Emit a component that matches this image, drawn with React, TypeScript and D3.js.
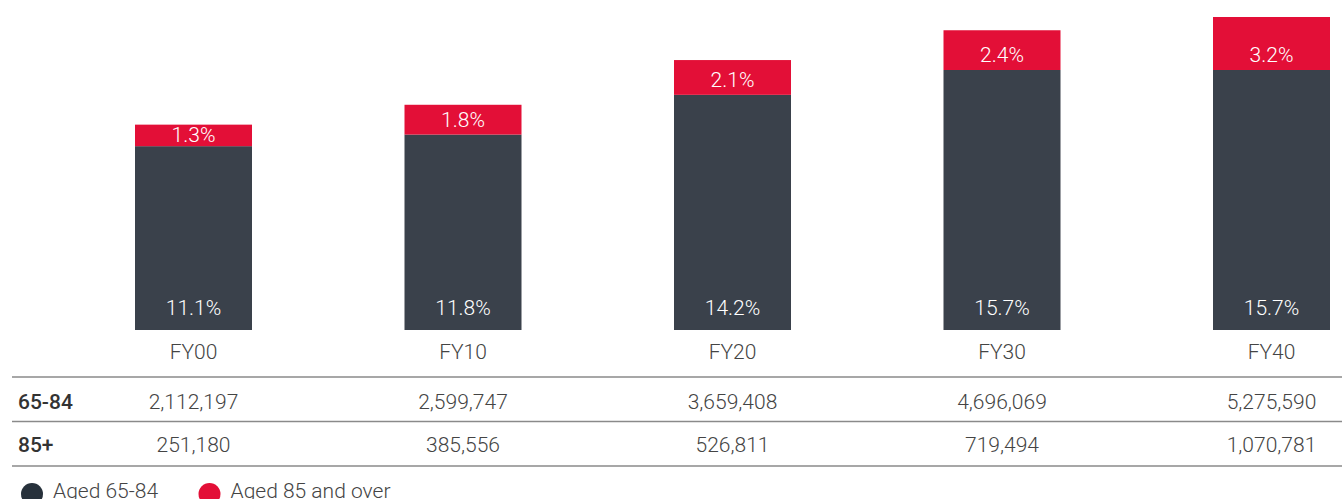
import React from 'react';
import * as d3 from 'd3';

const categories = ['FY00', 'FY10', 'FY20', 'FY30', 'FY40'];
const aged6584Pct = [11.1, 11.8, 14.2, 15.7, 15.7];
const aged85Pct = [1.3, 1.8, 2.1, 2.4, 3.2];
const aged6584Count = [2112197, 2599747, 3659408, 4696069, 5275590];
const aged85Count = [251180, 385556, 526811, 719494, 1070781];
const rowLabels = ['65-84', '85+'];
const legendLabels = ['Aged 65-84', 'Aged 85 and over'];

const DARK = '#3a414b';
const RED = '#e30f37';
const FONT = "Roboto, 'Helvetica Neue', Arial, sans-serif";

export default function App() {
  const width = 1342;
  const height = 499;
  const barWidth = 117;
  const baseY = 330;
  const fs = 21;

  const x = d3.scalePoint<string>()
    .domain(categories)
    .range([193.5, 1271.5]);

  const totals = categories.map((_, i) => aged6584Pct[i] + aged85Pct[i]);
  const y = d3.scaleLinear()
    .domain([0, d3.max(totals) as number])
    .range([baseY, 17]);

  const fmt = d3.format(',');
  const rows = [aged6584Count, aged85Count];
  const rowY = [409, 452];
  const lineY = [377, 421.5, 466];

  return (
    <svg
      width={width}
      height={height}
      style={{ position: 'absolute', left: 0, top: 0, fontFamily: FONT }}
    >
      {categories.map((c, i) => {
        const cx = x(c) as number;
        const darkTop = y(aged6584Pct[i]);
        const redTop = y(aged6584Pct[i] + aged85Pct[i]);
        // label sits near the bottom of the red segment
        const redLabelY = Math.max((redTop + darkTop) / 2 + 7, darkTop - 8);
        return (
          <g key={c}>
            <rect x={cx - barWidth / 2} y={darkTop} width={barWidth} height={baseY - darkTop} fill={DARK} />
            <rect x={cx - barWidth / 2} y={redTop} width={barWidth} height={darkTop - redTop} fill={RED} />
            <text x={cx} y={baseY - 15} textAnchor="middle" fill="#fff" fontSize={fs} fontWeight={300}>
              {`${aged6584Pct[i].toFixed(1)}%`}
            </text>
            <text x={cx} y={redLabelY} textAnchor="middle" fill="#fff" fontSize={fs} fontWeight={300}>
              {`${aged85Pct[i].toFixed(1)}%`}
            </text>
            <text x={cx} y={359} textAnchor="middle" fill="#444" fontSize={fs} fontWeight={300}>
              {c}
            </text>
          </g>
        );
      })}

      {lineY.map((ly) => (
        <line key={ly} x1={12} x2={width} y1={ly} y2={ly} stroke="#8a8a8a" strokeWidth={1.5} />
      ))}

      {rows.map((vals, r) => (
        <g key={rowLabels[r]}>
          <text x={18} y={rowY[r]} fill="#333" fontSize={fs} fontWeight={500}>{rowLabels[r]}</text>
          {vals.map((v, i) => (
            <text key={categories[i]} x={x(categories[i]) as number} y={rowY[r]} textAnchor="middle" fill="#444" fontSize={fs} fontWeight={300}>
              {fmt(v)}
            </text>
          ))}
        </g>
      ))}

      {legendLabels.map((l, i) => {
        const lx = i === 0 ? 32 : 209.5;
        return (
          <g key={l}>
            <circle cx={lx} cy={494} r={11} fill={i === 0 ? '#27313b' : RED} />
            <text x={lx + 21} y={498} fill="#444" fontSize={fs} fontWeight={300}>{l}</text>
          </g>
        );
      })}
    </svg>
  );
}
